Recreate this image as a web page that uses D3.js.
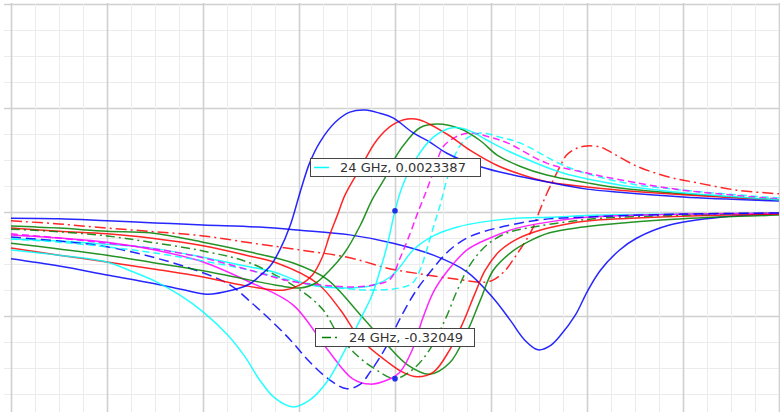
<!DOCTYPE html>
<html>
<head>
<meta charset="utf-8">
<script src="https://cdn.jsdelivr.net/npm/d3@7"></script>
<style>
  body { margin: 0; background: #fff; }
  svg { display: block; font-family: "DejaVu Sans", sans-serif; }
</style>
</head>
<body>
<svg id="chart" width="780" height="412"></svg>
<script>
// frequency (GHz), value pairs

// dispersive-like curves (negative lobe, then positive peak)
const blueSolidD = [[20.00,-0.090],[20.50,-0.104],[21.00,-0.121],[21.50,-0.138],[21.81,-0.150],[22.04,-0.158],[22.31,-0.150],[22.49,-0.138],[22.59,-0.123],[22.70,-0.104],[22.80,-0.073],[22.91,-0.025],[23.01,0.037],[23.11,0.094],[23.22,0.135],[23.38,0.173],[23.53,0.192],[23.69,0.196],[23.84,0.190],[23.98,0.181],[24.19,0.152],[24.36,0.135],[24.54,0.113],[24.89,0.087],[25.23,0.071],[25.58,0.058],[26.00,0.044],[26.34,0.038],[27.00,0.029],[28.00,0.021]];
const redSolidD = [[20.00,-0.069],[20.50,-0.083],[21.00,-0.096],[21.50,-0.110],[22.00,-0.125],[22.39,-0.140],[22.65,-0.148],[22.85,-0.150],[23.01,-0.140],[23.14,-0.121],[23.24,-0.088],[23.32,-0.044],[23.40,-0.006],[23.48,0.033],[23.64,0.085],[23.81,0.138],[23.97,0.167],[24.13,0.179],[24.26,0.177],[24.54,0.150],[24.78,0.119],[25.06,0.090],[25.30,0.073],[25.58,0.058],[26.00,0.048],[26.34,0.042],[27.00,0.033],[28.00,0.023]];
const greenSolidD = [[20.00,-0.060],[20.50,-0.071],[21.00,-0.083],[21.50,-0.098],[22.00,-0.113],[22.49,-0.131],[22.80,-0.142],[23.01,-0.146],[23.17,-0.137],[23.32,-0.112],[23.48,-0.077],[23.64,-0.025],[23.76,0.023],[23.90,0.067],[24.02,0.110],[24.13,0.138],[24.26,0.162],[24.44,0.169],[24.68,0.160],[24.89,0.137],[25.06,0.110],[25.30,0.088],[25.58,0.071],[26.00,0.056],[26.34,0.046],[27.00,0.035],[28.00,0.023]];
const cyanSolidD = [[20.00,-0.073],[20.50,-0.083],[21.00,-0.096],[21.27,-0.115],[21.50,-0.133],[21.76,-0.160],[22.00,-0.192],[22.25,-0.235],[22.44,-0.279],[22.59,-0.323],[22.75,-0.358],[22.94,-0.375],[23.11,-0.362],[23.29,-0.327],[23.48,-0.265],[23.64,-0.206],[23.76,-0.160],[23.84,-0.115],[23.92,-0.063],[24.00,0.002],[24.07,0.046],[24.19,0.094],[24.40,0.144],[24.60,0.162],[24.78,0.156],[24.96,0.138],[25.23,0.113],[25.75,0.075],[26.34,0.052],[27.00,0.037],[28.00,0.023]];
const magentaDashD = [[20.00,-0.042],[20.50,-0.050],[21.00,-0.060],[21.50,-0.071],[22.00,-0.088],[22.49,-0.112],[22.91,-0.133],[23.32,-0.142],[23.58,-0.144],[23.79,-0.140],[23.95,-0.129],[24.05,-0.090],[24.16,-0.040],[24.24,0.000],[24.33,0.042],[24.42,0.087],[24.50,0.125],[24.63,0.144],[24.78,0.152],[24.99,0.144],[25.17,0.133],[25.58,0.094],[26.00,0.075],[26.34,0.062],[27.00,0.042],[28.00,0.025]];
const cyanDashD = [[20.00,-0.052],[20.50,-0.058],[21.00,-0.067],[21.50,-0.079],[22.00,-0.094],[22.49,-0.112],[22.91,-0.131],[23.32,-0.144],[23.74,-0.150],[24.05,-0.146],[24.18,-0.137],[24.26,-0.112],[24.33,-0.073],[24.40,-0.029],[24.47,0.013],[24.54,0.062],[24.65,0.119],[24.75,0.142],[24.89,0.152],[25.09,0.144],[25.30,0.133],[25.79,0.087],[26.34,0.058],[27.00,0.042],[28.00,0.027]];
const redDashDotD = [[20.00,-0.017],[20.50,-0.023],[21.00,-0.031],[21.50,-0.038],[22.00,-0.046],[22.52,-0.060],[23.01,-0.073],[23.53,-0.088],[23.92,-0.108],[24.26,-0.119],[24.63,-0.129],[24.94,-0.135],[25.04,-0.129],[25.15,-0.112],[25.23,-0.092],[25.30,-0.073],[25.38,-0.050],[25.44,-0.029],[25.51,0.004],[25.58,0.035],[25.65,0.062],[25.72,0.088],[25.79,0.110],[25.90,0.123],[26.00,0.127],[26.14,0.125],[26.21,0.119],[26.52,0.088],[26.86,0.067],[27.15,0.056],[27.56,0.042],[28.00,0.035]];

// dip curves (go down, then back to zero)
const blueSolidA = [[20.00,-0.012],[20.50,-0.013],[21.00,-0.017],[21.50,-0.021],[22.00,-0.025],[22.59,-0.029],[23.01,-0.035],[23.53,-0.044],[23.98,-0.060],[24.40,-0.083],[24.75,-0.115],[25.02,-0.165],[25.20,-0.208],[25.35,-0.246],[25.49,-0.265],[25.61,-0.258],[25.72,-0.238],[25.88,-0.198],[26.00,-0.154],[26.14,-0.112],[26.34,-0.073],[26.52,-0.050],[26.86,-0.025],[27.39,-0.010],[28.00,-0.004]];
const blueDashA = [[20.00,-0.048],[20.50,-0.056],[21.00,-0.067],[21.50,-0.088],[21.97,-0.115],[22.28,-0.140],[22.52,-0.177],[22.67,-0.202],[22.91,-0.246],[23.11,-0.288],[23.32,-0.323],[23.50,-0.340],[23.64,-0.331],[23.74,-0.308],[23.90,-0.262],[24.05,-0.206],[24.21,-0.154],[24.36,-0.117],[24.57,-0.073],[24.75,-0.050],[24.92,-0.038],[25.20,-0.025],[25.51,-0.015],[25.96,-0.010],[27.00,-0.004],[28.00,-0.002]];
const magentaSolidA = [[20.00,-0.044],[20.50,-0.050],[21.00,-0.058],[21.50,-0.073],[22.00,-0.096],[22.49,-0.135],[22.94,-0.179],[23.29,-0.263],[23.56,-0.321],[23.74,-0.331],[23.92,-0.323],[24.05,-0.308],[24.18,-0.265],[24.29,-0.204],[24.40,-0.154],[24.54,-0.115],[24.75,-0.073],[24.99,-0.050],[25.27,-0.031],[25.61,-0.019],[26.00,-0.010],[27.00,-0.004],[28.00,-0.002]];
const greenDashA = [[20.00,-0.033],[20.50,-0.038],[21.00,-0.046],[21.45,-0.058],[22.00,-0.075],[22.49,-0.098],[23.01,-0.150],[23.25,-0.188],[23.40,-0.233],[23.60,-0.275],[23.81,-0.304],[24.00,-0.32049],[24.19,-0.302],[24.36,-0.265],[24.52,-0.208],[24.65,-0.150],[24.78,-0.102],[24.96,-0.063],[25.17,-0.040],[25.44,-0.029],[25.79,-0.019],[26.14,-0.012],[27.00,-0.006],[28.00,-0.002]];
const redSolidA = [[20.00,-0.031],[20.50,-0.037],[21.00,-0.042],[21.45,-0.050],[22.00,-0.065],[22.49,-0.085],[22.77,-0.098],[23.19,-0.137],[23.43,-0.188],[23.64,-0.244],[23.92,-0.288],[24.08,-0.308],[24.23,-0.317],[24.40,-0.308],[24.57,-0.265],[24.71,-0.212],[24.83,-0.158],[24.94,-0.112],[25.09,-0.075],[25.27,-0.052],[25.51,-0.035],[25.85,-0.021],[26.14,-0.015],[27.00,-0.008],[28.00,-0.004]];
const greenSolidA = [[20.00,-0.027],[20.50,-0.031],[21.00,-0.037],[21.45,-0.040],[22.00,-0.058],[22.49,-0.077],[22.94,-0.098],[23.29,-0.129],[23.64,-0.198],[23.92,-0.256],[24.13,-0.294],[24.36,-0.312],[24.57,-0.290],[24.75,-0.231],[24.89,-0.169],[25.02,-0.113],[25.20,-0.079],[25.38,-0.058],[25.61,-0.040],[25.96,-0.029],[26.14,-0.025],[27.00,-0.013],[28.00,-0.006]];
const cyanSolidA = [[20.00,-0.052],[20.50,-0.056],[21.00,-0.062],[21.45,-0.069],[22.00,-0.087],[22.39,-0.102],[22.73,-0.115],[23.11,-0.140],[23.53,-0.146],[23.79,-0.140],[23.95,-0.125],[24.05,-0.106],[24.19,-0.073],[24.40,-0.046],[24.65,-0.029],[24.92,-0.019],[25.27,-0.012],[25.61,-0.010],[26.14,-0.006],[27.00,-0.004],[28.00,-0.002]];

// readouts shown in the two tooltips
const tipFreq = 24;
const tipValues = [0.0023387, -0.32049];
const tipLabels = ["24 GHz, 0.0023387", "24 GHz, -0.32049"];

const series = [
    { data: redDashDotD,   color: "#ff0000", dash: "11,4,2,4" },
    { data: blueSolidA,    color: "#0000ff", dash: null },
    { data: cyanSolidA,    color: "#00ffff", dash: null },
    { data: greenSolidA,   color: "#008000", dash: null },
    { data: redSolidA,     color: "#ff0000", dash: null },
    { data: greenDashA,    color: "#008000", dash: "9,4,2,4" },
    { data: magentaSolidA, color: "#ff00ff", dash: null },
    { data: blueDashA,     color: "#0000ff", dash: "10,5" },
    { data: cyanDashD,     color: "#00ffff", dash: "7,4" },
    { data: magentaDashD,  color: "#ff00ff", dash: "7,4" },
    { data: greenSolidD,   color: "#008000", dash: null },
    { data: redSolidD,     color: "#ff0000", dash: null },
    { data: blueSolidD,    color: "#0000ff", dash: null },
    { data: cyanSolidD,    color: "#00ffff", dash: null }
];

const svg = d3.select("#chart");
const width = +svg.attr("width");
const height = +svg.attr("height");

const x = d3.scaleLinear().domain([20, 28]).range([11, 779]);
const y = d3.scaleLinear().domain([-0.4, 0.4]).range([420, 4]);

// grid: minor every 0.25 GHz / 0.05, major every 1 GHz / 0.2
const grid = svg.append("g");
const xTicks = d3.range(20, 28.001, 0.25);
const yTicks = d3.range(-0.4, 0.4001, 0.05);
const isMajorX = d => Math.abs(d - Math.round(d)) < 1e-6;
const isMajorY = d => Math.abs(d / 0.2 - Math.round(d / 0.2)) < 1e-6;

grid.selectAll("line.gy")
    .data(yTicks.filter(d => y(d) <= height))
    .enter().append("line")
    .attr("x1", 4).attr("x2", width)
    .attr("y1", d => Math.round(y(d)) + 0.5)
    .attr("y2", d => Math.round(y(d)) + 0.5)
    .attr("stroke", d => isMajorY(d) ? "#d0d0d0" : "#ececec")
    .attr("stroke-width", d => isMajorY(d) ? 1.6 : 1);

grid.selectAll("line.gx")
    .data(xTicks)
    .enter().append("line")
    .attr("y1", 3).attr("y2", height)
    .attr("x1", d => Math.round(x(d)) + 0.5)
    .attr("x2", d => Math.round(x(d)) + 0.5)
    .attr("stroke", d => isMajorX(d) ? "#d0d0d0" : "#ececec")
    .attr("stroke-width", d => isMajorX(d) ? 1.6 : 1);

svg.append("clipPath").attr("id", "plotClip")
    .append("rect").attr("x", 11).attr("y", 3).attr("width", 768).attr("height", height);

const line = d3.line()
    .x(d => x(d[0]))
    .y(d => y(d[1]))
    .curve(d3.curveCatmullRom.alpha(0.5));

svg.append("g")
    .attr("clip-path", "url(#plotClip)")
    .selectAll("path")
    .data(series)
    .enter().append("path")
    .attr("d", d => line(d.data))
    .attr("fill", "none")
    .attr("stroke", d => d.color)
    .attr("stroke-width", 1.5)
    .attr("stroke-opacity", 0.85)
    .attr("stroke-dasharray", d => d.dash);

// tooltips
const tipSeries = [series[13], series[5]];
const tipOffsets = [[-85, -53, 170], [-80, -51, 159]];

tipValues.forEach((v, i) => {
    const cx = x(tipFreq), cy = y(v);
    const [dx, dy, w] = tipOffsets[i];
    const g = svg.append("g").attr("transform", "translate(" + Math.round(cx + dx) + "," + Math.round(cy + dy) + ")");
    g.append("rect")
        .attr("x", 0.5).attr("y", 0.5)
        .attr("width", w).attr("height", 18)
        .attr("fill", "#fff")
        .attr("stroke", "#444")
        .attr("stroke-width", 1);
    g.append("line")
        .attr("x1", 4 + i * 3).attr("x2", 19 + i * 3)
        .attr("y1", 9.5).attr("y2", 9.5)
        .attr("stroke", tipSeries[i].color)
        .attr("stroke-width", 1.5)
        .attr("stroke-dasharray", tipSeries[i].dash);
    g.append("text")
        .attr("x", 30 + i * 4).attr("y", 14)
        .attr("font-size", 13)
        .attr("fill", "#333")
        .text(tipLabels[i]);

    svg.append("circle")
        .attr("cx", cx).attr("cy", cy)
        .attr("r", 2.8)
        .attr("fill", "#1a33e6");
});
</script>
</body>
</html>
